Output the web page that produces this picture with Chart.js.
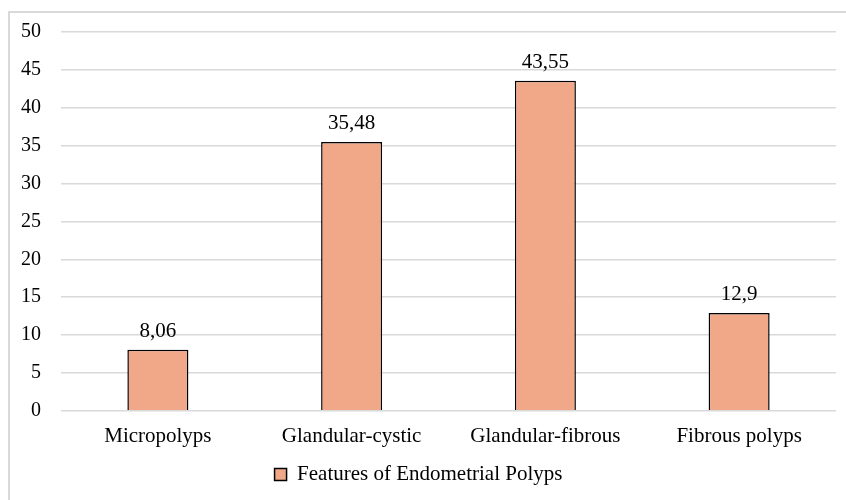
<!DOCTYPE html>
<html>
<head>
<meta charset="utf-8">
<script src="https://cdn.jsdelivr.net/npm/chart.js@4/dist/chart.umd.min.js"></script>
<style>
  html, body { margin: 0; padding: 0; background: #fff; }
  #wrap { width: 846px; height: 500px; position: relative; }
</style>
</head>
<body>
<div id="wrap"><canvas id="polypChart" width="846" height="500"></canvas></div>
<script>
// data
const categories = ['Micropolyps', 'Glandular-cystic', 'Glandular-fibrous', 'Fibrous polyps'];
const polypValues = [8.06, 35.48, 43.55, 12.9];
const seriesName = 'Features of Endometrial Polyps';

const serif = "'Liberation Serif', 'Times New Roman', serif";

// outer frame, like the exported Excel chart
const framePlugin = {
    id: 'frame',
    beforeDraw(chart) {
        const ctx = chart.ctx;
        ctx.save();
        ctx.fillStyle = '#fff';
        ctx.fillRect(0, 0, chart.width, chart.height);
        ctx.strokeStyle = '#d9d9d9';
        ctx.lineWidth = 2;
        ctx.strokeRect(9, 12, chart.width + 10, chart.height + 10);
        ctx.restore();
    }
};

// value labels above each bar (comma decimals)
const valueLabels = {
    id: 'valueLabels',
    afterDatasetsDraw(chart) {
        const ctx = chart.ctx;
        ctx.save();
        ctx.font = '21px ' + serif;
        ctx.fillStyle = '#000';
        ctx.textAlign = 'center';
        ctx.textBaseline = 'alphabetic';
        chart.getDatasetMeta(0).data.forEach((bar, i) => {
            const txt = String(polypValues[i]).replace('.', ',');
            ctx.fillText(txt, bar.x, bar.y - 13);
        });
        ctx.restore();
    }
};

const ctx = document.getElementById('polypChart').getContext('2d');
const chart = new Chart(ctx, {
    type: 'bar',
    data: {
        labels: categories,
        datasets: [{
            label: seriesName,
            data: polypValues,
            backgroundColor: '#F0A889',
            borderColor: '#000',
            borderWidth: 1.5,
            categoryPercentage: 1,
            barPercentage: 0.315
        }]
    },
    options: {
        responsive: false,
        animation: false,
        layout: {
            padding: { left: 1, right: 10, top: 30, bottom: 5 }
        },
        plugins: {
            legend: {
                position: 'bottom',
                labels: {
                    font: { family: serif, size: 21 },
                    color: '#000',
                    boxWidth: 12,
                    boxHeight: 12,
                    padding: 2
                }
            },
            tooltip: { enabled: false }
        },
        scales: {
            x: {
                grid: { display: false, drawTicks: false },
                border: { display: false },
                ticks: {
                    font: { family: serif, size: 21 },
                    color: '#000',
                    padding: 13
                }
            },
            y: {
                min: 0,
                max: 50,
                grid: { color: '#d9d9d9', lineWidth: 1.5, drawTicks: false },
                border: { display: false },
                ticks: {
                    stepSize: 5,
                    font: { family: serif, size: 20 },
                    color: '#000',
                    padding: 20
                }
            }
        }
    },
    plugins: [framePlugin, valueLabels]
});
</script>
</body>
</html>
